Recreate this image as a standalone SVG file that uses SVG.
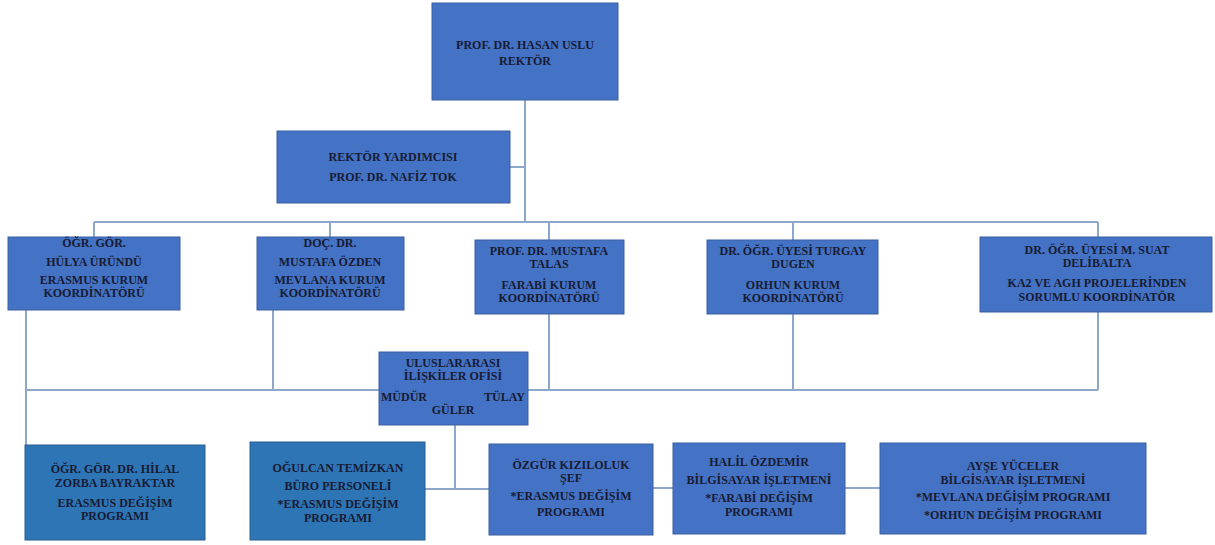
<svg xmlns="http://www.w3.org/2000/svg" width="1215" height="545" viewBox="0 0 1215 545">
<style>
.box{fill:#4472c4;stroke:#3a5f9f;stroke-width:1}
.box2{fill:#2e75b6;stroke:#2a5f8f;stroke-width:1}
.ln{fill:none;stroke:#8ea8cc;stroke-width:2}
text{font-family:"Liberation Serif","Times New Roman",serif;font-size:12px;font-weight:bold;fill:#171b33;text-anchor:middle}
.l{text-anchor:start}
.r{text-anchor:end}
</style>
<rect width="1215" height="545" fill="#ffffff"/>
<g id="connectors">
<path class="ln" d="M525,100 V223 M510,167 H525 M94,222 H1098 M94,222 V237 M330,222 V237 M549,222 V240 M793,222 V240 M1098,222 V237"/>
<path class="ln" d="M26,310 V445 M26,390 H379 M273,310 V390 M528,390 H1098 M549,314 V390 M793,314 V390 M1098,312 V390"/>
<path class="ln" d="M455,425 V489 M425,489 H489 M653,488 H673 M845,488 H880"/>
</g>
<g id="rektor">
<rect class="box" x="432" y="3" width="186" height="97"/>
<text x="525" y="49">PROF. DR. HASAN USLU</text>
<text x="525" y="65">REKTÖR</text>
</g>
<g id="rektor-yardimcisi">
<rect class="box" x="277" y="131" width="233" height="72"/>
<text x="393" y="161">REKTÖR  YARDIMCISI</text>
<text x="393" y="181">PROF. DR. NAFİZ TOK</text>
</g>
<g id="hulya">
<rect class="box" x="8" y="237" width="172" height="73"/>
<text x="94" y="247">ÖĞR. GÖR.</text>
<text x="94" y="266">HÜLYA ÜRÜNDÜ</text>
<text x="94" y="284">ERASMUS KURUM</text>
<text x="94" y="297">KOORDİNATÖRÜ</text>
</g>
<g id="mustafa-ozden">
<rect class="box" x="257" y="237" width="147" height="73"/>
<text x="330" y="247">DOÇ. DR.</text>
<text x="330" y="266">MUSTAFA ÖZDEN</text>
<text x="330" y="284">MEVLANA KURUM</text>
<text x="330" y="297">KOORDİNATÖRÜ</text>
</g>
<g id="mustafa-talas">
<rect class="box" x="475" y="240" width="149" height="74"/>
<text x="549" y="255">PROF. DR. MUSTAFA</text>
<text x="549" y="268">TALAS</text>
<text x="549" y="289">FARABİ KURUM</text>
<text x="549" y="302">KOORDİNATÖRÜ</text>
</g>
<g id="turgay">
<rect class="box" x="707" y="240" width="171" height="74"/>
<text x="793" y="255">DR. ÖĞR. ÜYESİ TURGAY</text>
<text x="793" y="268">DUGEN</text>
<text x="793" y="289">ORHUN KURUM</text>
<text x="793" y="302">KOORDİNATÖRÜ</text>
</g>
<g id="suat">
<rect class="box" x="980" y="237" width="232" height="75"/>
<text x="1097" y="254">DR. ÖĞR. ÜYESİ M. SUAT</text>
<text x="1097" y="267">DELİBALTA</text>
<text x="1097" y="287">KA2 VE AGH PROJELERİNDEN</text>
<text x="1097" y="301">SORUMLU KOORDİNATÖR</text>
</g>
<g id="uio">
<rect class="box" x="379" y="352" width="149" height="73"/>
<text x="453" y="367">ULUSLARARASI</text>
<text x="453" y="380">İLİŞKİLER OFİSİ</text>
<text class="l" x="381" y="401">MÜDÜR</text>
<text class="r" x="525" y="401">TÜLAY</text>
<text x="453" y="414">GÜLER</text>
</g>
<g id="hilal">
<rect class="box2" x="25" y="445" width="180" height="95"/>
<text x="115" y="473">ÖĞR. GÖR. DR. HİLAL</text>
<text x="115" y="487">ZORBA BAYRAKTAR</text>
<text x="115" y="507">ERASMUS DEĞİŞİM</text>
<text x="115" y="520">PROGRAMI</text>
</g>
<g id="ogulcan">
<rect class="box2" x="250" y="442" width="175" height="98"/>
<text x="338" y="472">OĞULCAN TEMİZKAN</text>
<text x="338" y="490">BÜRO PERSONELİ</text>
<text x="338" y="508">*ERASMUS DEĞİŞİM</text>
<text x="338" y="522">PROGRAMI</text>
</g>
<g id="ozgur">
<rect class="box" x="489" y="444" width="164" height="91"/>
<text x="571" y="469">ÖZGÜR KIZILOLUK</text>
<text x="571" y="482">ŞEF</text>
<text x="571" y="500">*ERASMUS DEĞİŞİM</text>
<text x="571" y="516">PROGRAMI</text>
</g>
<g id="halil">
<rect class="box" x="673" y="443" width="172" height="91"/>
<text x="759" y="466">HALİL ÖZDEMİR</text>
<text x="759" y="484">BİLGİSAYAR İŞLETMENİ</text>
<text x="759" y="502">*FARABİ DEĞİŞİM</text>
<text x="759" y="516">PROGRAMI</text>
</g>
<g id="ayse">
<rect class="box" x="880" y="443" width="266" height="91"/>
<text x="1013" y="470">AYŞE YÜCELER</text>
<text x="1013" y="484">BİLGİSAYAR İŞLETMENİ</text>
<text x="1013" y="501">*MEVLANA DEĞİŞİM PROGRAMI</text>
<text x="1013" y="519">*ORHUN DEĞİŞİM PROGRAMI</text>
</g>
</svg>
